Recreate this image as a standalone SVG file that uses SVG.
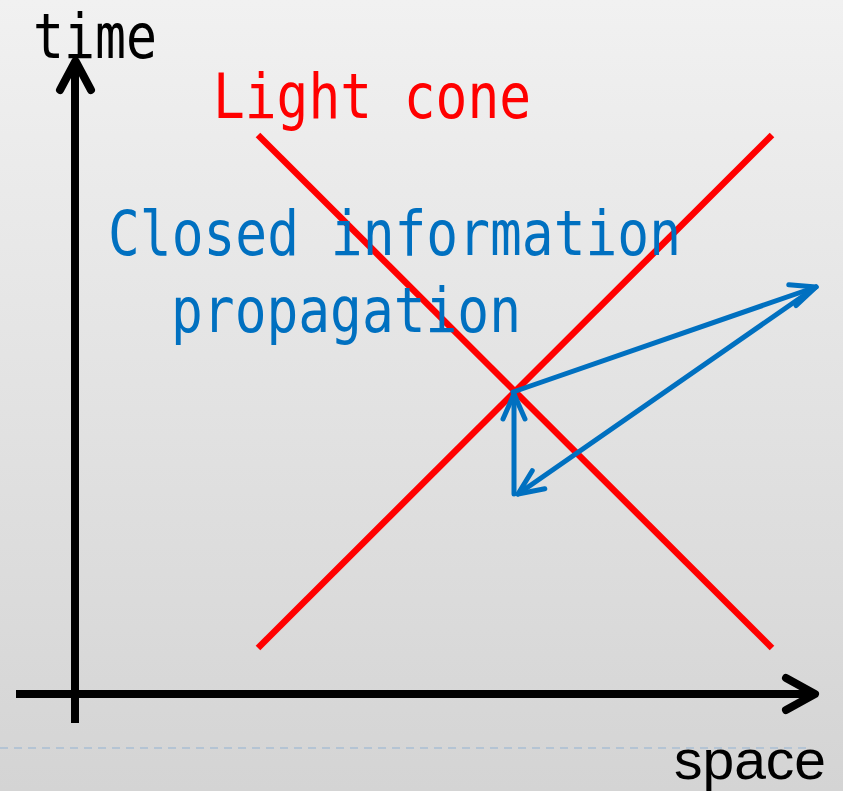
<svg xmlns="http://www.w3.org/2000/svg" width="843" height="791" viewBox="0 0 843 791">
  <defs>
    <linearGradient id="bg" x1="0" y1="0" x2="0" y2="1">
      <stop offset="0" stop-color="#f1f1f1"/>
      <stop offset="1" stop-color="#d4d4d4"/>
    </linearGradient>
    <marker id="blueHead" markerUnits="userSpaceOnUse" viewBox="-30 -15 34 30" refX="0" refY="0" markerWidth="34" markerHeight="30" orient="auto" overflow="visible">
      <path d="M-25,-11 L0,0 L-25,11" fill="none" stroke="#0070C0" stroke-width="5" stroke-linecap="round" stroke-linejoin="round"/>
    </marker>
  </defs>
  <style>
    .axis { stroke: #000; stroke-width: 8; fill: none; stroke-linecap: butt; }
    .head { stroke: #000; stroke-width: 8; fill: none; stroke-linecap: round; stroke-linejoin: round; }
    .cone { stroke: #FF0000; stroke-width: 6.5; fill: none; }
    .flow { stroke: #0070C0; stroke-width: 5; fill: none; stroke-linecap: round; marker-end: url(#blueHead); }
    .mono { font-family: "DejaVu Sans Mono", "Liberation Mono", monospace; font-size: 63px; }
  </style>
  <rect x="0" y="0" width="843" height="791" fill="url(#bg)"/>
  <line x1="0" y1="748" x2="808" y2="748" stroke="#a9bfd3" stroke-width="1.5" stroke-dasharray="8,6"/>

  <g id="time-axis">
    <line class="axis" x1="75" y1="723" x2="75" y2="64"/>
    <path class="head" d="M60,90 L75.5,61 L91,90"/>
  </g>
  <g id="space-axis">
    <line class="axis" x1="16" y1="694" x2="814" y2="694"/>
    <path class="head" d="M786,678 L815,694 L786,710"/>
  </g>

  <g id="light-cone">
    <line class="cone" x1="258" y1="135" x2="772" y2="648"/>
    <line class="cone" x1="258" y1="648" x2="772" y2="135"/>
  </g>

  <g id="connectors">
    <line class="flow" x1="513" y1="392" x2="816" y2="287"/>
    <line class="flow" x1="816" y1="287" x2="518" y2="494"/>
    <line class="flow" x1="514" y1="494" x2="514" y2="394"/>
  </g>

  <g id="label-time">
    <text class="mono" x="33" y="58" textLength="124" lengthAdjust="spacingAndGlyphs" fill="#000">time</text>
  </g>
  <g id="label-light-cone">
    <text class="mono" x="213" y="118" textLength="318" lengthAdjust="spacingAndGlyphs" fill="#FF0000">Light cone</text>
  </g>
  <g id="label-closed">
    <text class="mono" x="108" y="255" textLength="573" lengthAdjust="spacingAndGlyphs" fill="#0070C0">Closed information</text>
    <text class="mono" x="171" y="332" textLength="350" lengthAdjust="spacingAndGlyphs" fill="#0070C0">propagation</text>
  </g>
  <g id="label-space">
    <text x="674" y="779" font-family="'Liberation Sans', Arial, sans-serif" font-size="56" textLength="152" lengthAdjust="spacingAndGlyphs" fill="#000">space</text>
  </g>
</svg>
